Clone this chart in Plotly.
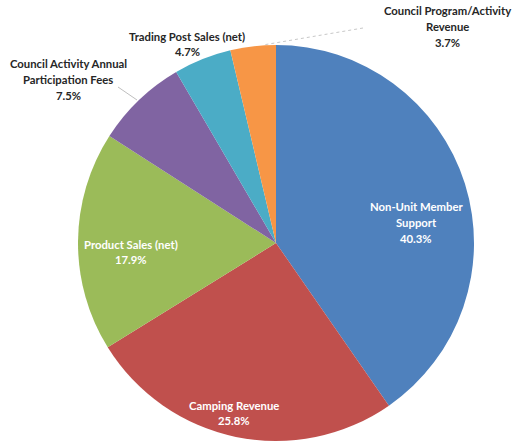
import plotly.graph_objects as go

labels = ["Non-Unit Member Support", "Camping Revenue", "Product Sales (net)",
          "Council Activity Annual Participation Fees", "Trading Post Sales (net)",
          "Council Program/Activity Revenue"]
values = [40.3, 25.8, 17.9, 7.5, 4.7, 3.7]
colors = ["#4F81BD", "#C0504D", "#9BBB59", "#8064A2", "#4BACC6", "#F79646"]
label_lines = [["Non-Unit Member", "Support"], ["Camping Revenue"], ["Product Sales (net)"],
               ["Council Activity Annual", "Participation Fees"], ["Trading Post Sales (net)"],
               ["Council Program/Activity", "Revenue"]]

W, H = 514, 443
cx, cy, r = 276, 243, 198

def px(x): return x / W
def py(y): return 1 - y / H

fig = go.Figure(go.Pie(
    labels=labels, values=values, sort=False, direction="clockwise", rotation=0,
    marker=dict(colors=colors, line=dict(width=0)),
    textinfo="none", hoverinfo="label+percent", showlegend=False,
    domain=dict(x=[px(cx - r), px(cx + r)], y=[py(cy + r), py(cy - r)]),
))

# label placements: pixel centre x, first-line y, text colour
pos = [(416, 207, "white"), (234, 405, "white"), (131, 244, "white"),
       (68, 64, "#262626"), (187, 36, "#262626"), (447, 11, "#262626")]
LH = 15.5
for lines, v, (x, y, c) in zip(label_lines, values, pos):
    for i, t in enumerate(lines + [f"{v:.1f}%"]):
        fig.add_annotation(x=px(x), y=py(y + i * LH), xref="paper", yref="paper",
                           text=f"<b>{t}</b>", showarrow=False,
                           xanchor="center", yanchor="middle",
                           font=dict(family="Lato", size=11.3, color=c))

# leader lines
fig.add_shape(type="line", xref="paper", yref="paper",
              x0=px(118), y0=py(87), x1=px(137), y1=py(100),
              line=dict(color="#BFBFBF", width=1))
fig.add_shape(type="line", xref="paper", yref="paper",
              x0=px(363), y0=py(28), x1=px(263), y1=py(45),
              line=dict(color="#C8C8C8", width=1, dash="dot"))

fig.update_layout(width=W, height=H, margin=dict(l=0, r=0, t=0, b=0),
                  paper_bgcolor="white", plot_bgcolor="white")
fig.write_html("out.html", config={"displayModeBar": False},
               post_script="document.body.style.margin='0px';")
